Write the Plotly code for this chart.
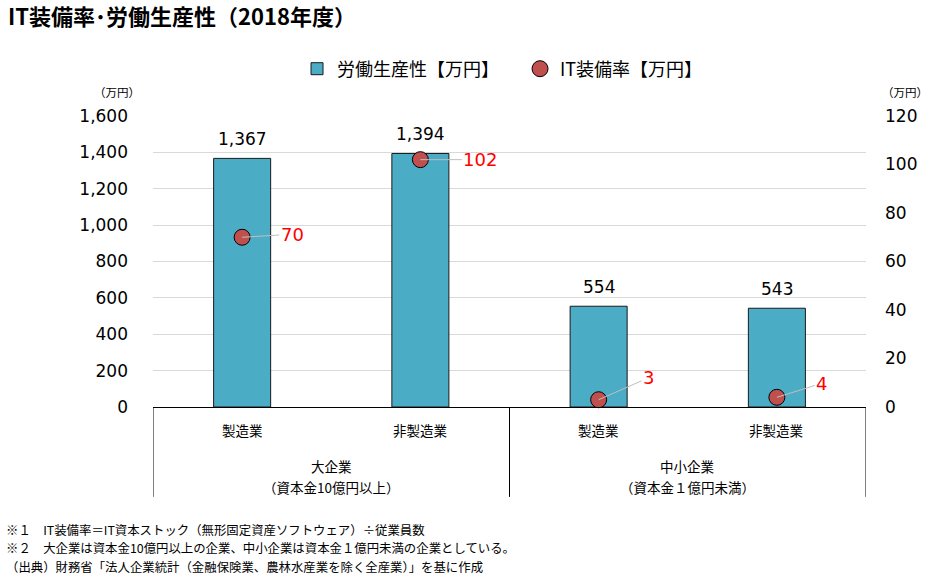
import plotly.graph_objects as go

categories = ["製造業", "非製造業", "製造業", "非製造業"]
groups = ["大企業", "中小企業"]
group_notes = ["（資本金10億円以上）", "（資本金１億円未満）"]
productivity = [1367, 1394, 554, 543]
it_rate = [70, 102, 3, 4]
left_ticks = [0, 200, 400, 600, 800, 1000, 1200, 1400, 1600]
right_ticks = [0, 20, 40, 60, 80, 100, 120]
label_offsets = [(50, -3), (60, 0), (50, -22), (45, -14)]

FONT = "DejaVu Sans, Noto Sans CJK JP"
JFONT = "Noto Sans CJK JP"
x = list(range(len(categories)))

fig = go.Figure()
fig.add_trace(go.Bar(
    x=x, y=productivity, name="労働生産性【万円】", width=0.32,
    marker=dict(color="#4BACC6", line=dict(color="#1a1a1a", width=1)),
))
fig.add_trace(go.Scatter(
    x=x, y=it_rate, name="IT装備率【万円】", mode="markers", yaxis="y2",
    marker=dict(color="#C0504D", size=16, line=dict(color="#000000", width=1)),
    cliponaxis=False,
))

for xi, v in zip(x, productivity):
    fig.add_annotation(x=xi, y=v, text=f"{v:,}", showarrow=False, yanchor="bottom",
                       yshift=7, font=dict(size=17, color="#000000", family=FONT))

for xi, v, (ax, ay) in zip(x, it_rate, label_offsets):
    fig.add_annotation(x=xi, y=v, yref="y2", text=str(v), showarrow=True,
                       arrowhead=0, arrowwidth=1, arrowcolor="#BFBFBF",
                       ax=ax, ay=ay, font=dict(size=18, color="#FF0000", family=FONT))

for xi, c in zip(x, categories):
    fig.add_annotation(x=xi, y=-0.079, yref="paper", text=c, showarrow=False,
                       yanchor="middle", xanchor="center",
                       font=dict(size=13.5, color="#000000", family=JFONT))
for gi, (g, gn) in enumerate(zip(groups, group_notes)):
    fig.add_annotation(x=gi * 2 + 0.5, y=-0.203, yref="paper", text=g, showarrow=False,
                       yanchor="middle", xanchor="center",
                       font=dict(size=13.5, color="#000000", family=JFONT))
    fig.add_annotation(x=gi * 2 + 0.5, y=-0.275, yref="paper", text=gn, showarrow=False,
                       yanchor="middle", xanchor="center",
                       font=dict(size=13.5, color="#000000", family=JFONT))
for xv in [-0.5, 1.5, 3.5]:
    fig.add_shape(type="line", x0=xv, x1=xv, y0=0, y1=-0.309, yref="paper",
                  line=dict(color="#000000", width=1))

for xp in [-0.0505, 1.0547]:
    fig.add_annotation(x=xp, y=1.082, xref="paper", yref="paper", text="（万円）",
                       showarrow=False, xanchor="center", yanchor="middle",
                       font=dict(size=11.5, color="#000000", family=JFONT))

notes = ["※１　IT装備率＝IT資本ストック（無形固定資産ソフトウェア）÷従業員数",
         "※２　大企業は資本金10億円以上の企業、中小企業は資本金１億円未満の企業としている。",
         "（出典）財務省「法人企業統計（金融保険業、農林水産業を除く全産業）」を基に作成"]
for i, n in enumerate(notes):
    fig.add_annotation(x=-0.2075, y=-(123 + [0, 18, 37][i]) / 291, xref="paper", yref="paper",
                       xanchor="left", yanchor="middle", text=n, showarrow=False, borderpad=0,
                       font=dict(size=12.4, color="#000000", family=JFONT))

fig.update_layout(
    width=934, height=580,
    margin=dict(l=153, r=68, t=116, b=173),
    paper_bgcolor="white", plot_bgcolor="white",
    font=dict(family=FONT, color="#000000"),
    title=dict(text="<b>IT装備率･労働生産性（2018年度）</b>", x=8 / 934, xanchor="left",
               xref="container", y=1 - 17 / 580, yanchor="middle", yref="container",
               font=dict(size=22, color="#000000", family=JFONT)),
    legend=dict(orientation="h", x=0.202, xanchor="left", xref="paper",
                y=1 - 69 / 580, yanchor="middle", yref="container",
                entrywidth=178, entrywidthmode="pixels",
                font=dict(size=18, family=JFONT), itemwidth=30, traceorder="normal"),
    xaxis=dict(range=[-0.5, 3.5], showticklabels=False, showgrid=False, zeroline=False,
               showline=True, linecolor="#000000", linewidth=1, ticks="", automargin=False),
    yaxis=dict(range=[0, 1600], tickvals=left_ticks, tickformat=",", showgrid=True,
               gridcolor="#D9D9D9", zeroline=False, ticklabelstandoff=24, automargin=False,
               tickfont=dict(size=17, family=FONT, color="#000000")),
    yaxis2=dict(range=[0, 120], tickvals=right_ticks, overlaying="y", side="right",
                showgrid=False, zeroline=False, ticklabelstandoff=18, automargin=False,
                tickfont=dict(size=17, family=FONT, color="#000000")),
)

fig.write_html("out.html", config={"displayModeBar": False},
               post_script="document.body.style.margin='0px';")
